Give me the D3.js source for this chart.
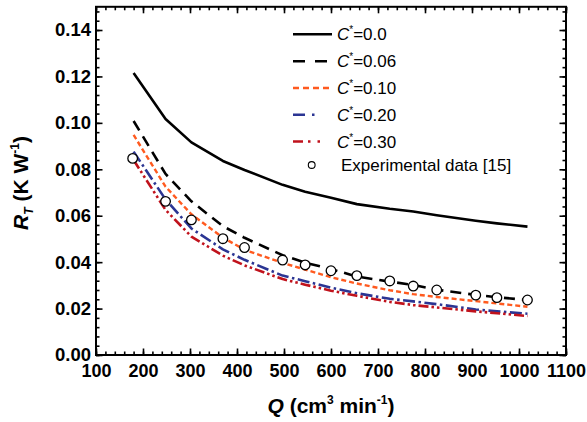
<!DOCTYPE html>
<html><head><meta charset="utf-8">
<script src="https://cdn.jsdelivr.net/npm/d3@7/dist/d3.min.js"></script>
<style>body{margin:0;background:#fff} svg{display:block;font-family:"Liberation Sans",Arial,sans-serif}</style>
</head><body><svg id="c" width="587" height="422"></svg>
<script>
// ---- data ----
const Q = [180, 248, 303, 370, 416, 497, 545, 600, 655, 725, 775, 825, 908, 953, 1018];
const rC000 = [0.1215, 0.1017, 0.0916, 0.0836, 0.0797, 0.0733, 0.0703, 0.0677, 0.0650, 0.0630, 0.0618, 0.0602, 0.0578, 0.0567, 0.0553];
const rC006 = [0.1008, 0.0780, 0.0662, 0.0555, 0.0505, 0.0430, 0.0398, 0.0370, 0.0338, 0.0316, 0.0302, 0.0281, 0.0259, 0.0249, 0.0237];
const rC010 = [0.0948, 0.0725, 0.0606, 0.0506, 0.0453, 0.0397, 0.0368, 0.0335, 0.0308, 0.0279, 0.0262, 0.0250, 0.0232, 0.0222, 0.0208];
const rC020 = [0.0876, 0.0670, 0.0545, 0.0455, 0.0410, 0.0342, 0.0318, 0.0290, 0.0266, 0.0242, 0.0231, 0.0219, 0.0196, 0.0188, 0.0178];
const rC030 = [0.0840, 0.0625, 0.0510, 0.0428, 0.0386, 0.0327, 0.0303, 0.0277, 0.0255, 0.0229, 0.0215, 0.0205, 0.0188, 0.0180, 0.0168];
const expQ = [178, 248, 303, 370, 416, 497, 545, 600, 655, 725, 775, 825, 908, 953, 1018];
const expR = [0.0847, 0.0662, 0.0582, 0.0501, 0.0463, 0.0409, 0.0388, 0.0363, 0.0342, 0.0319, 0.0297, 0.0280, 0.0258, 0.0247, 0.0237];
const seriesNames = ["0.0", "0.06", "0.10", "0.20", "0.30"];
const expName = "Experimental data [15]";
const xTicks = [100, 200, 300, 400, 500, 600, 700, 800, 900, 1000, 1100];
const yTicks = [0.00, 0.02, 0.04, 0.06, 0.08, 0.10, 0.12, 0.14];

// ---- styles ----
const styles = [
  {color: "#000000", dash: null, w: 2.6, legDash: null},
  {color: "#000000", dash: "11,7", w: 2.6, legDash: "12,10"},
  {color: "#ff5a1f", dash: "5,3", w: 2.4, legDash: "6,4"},
  {color: "#2b3593", dash: "12,3.5,2.5,3.5", w: 2.6, legDash: "12,7,2.5,30"},
  {color: "#c0121c", dash: "10,3,2.5,3,2.5,3", w: 2.6, legDash: "10,5,2.5,7,2.5,30"}
];
const seriesVals = [rC000, rC006, rC010, rC020, rC030];

const svg = d3.select("#c");
const x = d3.scaleLinear().domain([100, 1100]).range([96, 566]);
const y = d3.scaleLinear().domain([0, 0.15]).range([355, 6.8]);

// frame
svg.append("rect").attr("x", 96).attr("y", 6.8).attr("width", 470).attr("height", 348.2)
  .attr("fill", "none").attr("stroke", "#000").attr("stroke-width", 2);

const xMinor = d3.range(100, 1101, 20);
const yMinor = d3.range(0, 0.1501, 0.004);
function styleAxis(g){ g.select(".domain").remove(); g.selectAll("line").attr("stroke","#000").attr("stroke-width",1.6); }

// bottom
svg.append("g").attr("transform","translate(0,355)")
  .call(d3.axisBottom(x).tickValues(xMinor).tickSize(-3.5).tickFormat("")).call(styleAxis);
const xb = svg.append("g").attr("transform","translate(0,355)")
  .call(d3.axisBottom(x).tickValues(xTicks).tickSizeInner(-6.5).tickSizeOuter(0).tickPadding(9).tickFormat(d3.format("d")));
styleAxis(xb);
xb.selectAll("text").attr("font-size", 18).attr("font-weight","bold").attr("fill","#000")
  .attr("font-family",'"Liberation Sans",Arial,sans-serif');
// top
svg.append("g").attr("transform","translate(0,6.8)")
  .call(d3.axisTop(x).tickValues(xMinor).tickSize(-3.5).tickFormat("")).call(styleAxis);
svg.append("g").attr("transform","translate(0,6.8)")
  .call(d3.axisTop(x).tickValues(xTicks).tickSize(-6.5).tickFormat("")).call(styleAxis);
// left
svg.append("g").attr("transform","translate(96,0)")
  .call(d3.axisLeft(y).tickValues(yMinor).tickSize(-3.5).tickFormat("")).call(styleAxis);
const yl = svg.append("g").attr("transform","translate(96,0)")
  .call(d3.axisLeft(y).tickValues(yTicks).tickSizeInner(-6.5).tickSizeOuter(0).tickPadding(5).tickFormat(d3.format(".2f")));
styleAxis(yl);
yl.selectAll("text").attr("font-size", 18.5).attr("font-weight","bold").attr("fill","#000")
  .attr("font-family",'"Liberation Sans",Arial,sans-serif');
// right
svg.append("g").attr("transform","translate(566,0)")
  .call(d3.axisRight(y).tickValues(yMinor).tickSize(-3.5).tickFormat("")).call(styleAxis);
svg.append("g").attr("transform","translate(566,0)")
  .call(d3.axisRight(y).tickValues(yTicks).tickSize(-6.5).tickFormat("")).call(styleAxis);

// lines
const line = d3.line().x(d => x(d[0])).y(d => y(d[1]));
seriesVals.forEach((vals, i) => {
  svg.append("path").datum(Q.map((q, j) => [q, vals[j]]))
    .attr("d", line).attr("fill","none").attr("stroke", styles[i].color)
    .attr("stroke-width", styles[i].w).attr("stroke-dasharray", styles[i].dash)
    .attr("stroke-linejoin","round");
});
// experimental points
svg.append("g").selectAll("circle").data(expQ.map((q, j) => [q, expR[j]])).join("circle")
  .attr("cx", d => x(d[0])).attr("cy", d => y(d[1])).attr("r", 4.8)
  .attr("fill","#fff").attr("stroke","#000").attr("stroke-width",1.3);

// legend
const legY = [34.3, 61.2, 88, 114.7, 141.5];
const leg = svg.append("g");
seriesNames.forEach((nm, i) => {
  leg.append("line").attr("x1", 293).attr("x2", 332).attr("y1", legY[i]).attr("y2", legY[i])
    .attr("stroke", styles[i].color).attr("stroke-width", styles[i].w)
    .attr("stroke-dasharray", styles[i].legDash);
  const t = leg.append("text").attr("x", 337).attr("y", legY[i] + 6).attr("font-size", 17).attr("fill","#000");
  t.append("tspan").attr("font-style","italic").text("C");
  t.append("tspan").attr("font-size", 10).attr("dy", -7).text("*");
  t.append("tspan").attr("dy", 7).text("=" + nm);
});
leg.append("circle").attr("cx", 311.7).attr("cy", 165).attr("r", 3.4)
  .attr("fill","#fff").attr("stroke","#000").attr("stroke-width",1.1);
leg.append("text").attr("x", 341).attr("y", 171).attr("font-size", 17).attr("fill","#000").text(expName);

// axis titles
const xt = svg.append("text").attr("x", 331).attr("y", 413).attr("text-anchor","middle")
  .attr("font-size", 21).attr("font-weight","bold").attr("fill","#000");
xt.append("tspan").attr("font-style","italic").text("Q");
xt.append("tspan").text(" (cm");
xt.append("tspan").attr("font-size", 12).attr("dy", -9).text("3");
xt.append("tspan").attr("dy", 9).text(" min");
xt.append("tspan").attr("font-size", 12).attr("dy", -9).text("-1");
xt.append("tspan").attr("dy", 9).text(")");

const yt = svg.append("text").attr("transform","translate(28,183) rotate(-90)").attr("text-anchor","middle")
  .attr("font-size", 21).attr("font-weight","bold").attr("fill","#000");
yt.append("tspan").attr("font-style","italic").text("R");
yt.append("tspan").attr("font-style","italic").attr("font-size", 12).attr("dy", 5).text("T");
yt.append("tspan").attr("dy", -5).text(" (K W");
yt.append("tspan").attr("font-size", 12).attr("dy", -9).text("-1");
yt.append("tspan").attr("dy", 9).text(")");
</script></body></html>
